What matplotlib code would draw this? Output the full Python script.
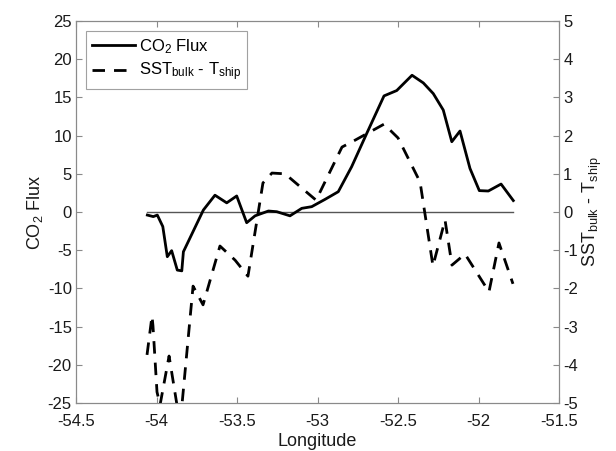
import matplotlib
matplotlib.use("Agg")
import matplotlib.pyplot as plt
import numpy as np

plt.rcParams['font.family'] = ['Liberation Sans', 'DejaVu Sans']
plt.rcParams['mathtext.fontset'] = 'custom'
plt.rcParams['mathtext.rm'] = 'Liberation Sans'
plt.rcParams['mathtext.it'] = 'Liberation Sans'
plt.rcParams['lines.scale_dashes'] = False

# CO2 flux (left axis)
co2_lon = [-54.057, -54.020, -53.995, -53.961, -53.933, -53.906, -53.871, -53.843,
           -53.833, -53.709, -53.637, -53.564, -53.502, -53.440, -53.388, -53.305,
           -53.253, -53.171, -53.098, -53.036, -52.953, -52.871, -52.788, -52.694,
           -52.587, -52.508, -52.413, -52.343, -52.281, -52.219, -52.166, -52.115,
           -52.053, -51.995, -51.939, -51.860, -51.784]
co2_flux = [-0.4, -0.6, -0.4, -1.9, -5.85, -5.06, -7.6, -7.7,
            -5.2, 0.26, 2.2, 1.2, 2.1, -1.4, -0.5, 0.13,
            0.04, -0.5, 0.48, 0.7, 1.66, 2.66, 5.93, 10.3,
            15.2, 15.9, 17.9, 16.9, 15.5, 13.35, 9.2, 10.6,
            5.7, 2.8, 2.75, 3.66, 1.5]

# SST_bulk - T_ship (right axis)
sst_lon = [-54.059, -54.028, -54.022, -53.997, -53.978, -53.922, -53.873, -53.842,
           -53.773, -53.711, -53.606, -53.512, -53.432, -53.339, -53.283, -53.202,
           -53.009, -52.848, -52.767, -52.587, -52.500, -52.363, -52.283, -52.208,
           -52.165, -52.084, -51.935, -51.873, -51.786]
sst_diff = [-3.74, -2.72, -2.98, -4.71, -5.05, -3.77, -5.05, -5.05,
            -1.94, -2.43, -0.89, -1.26, -1.68, 0.76, 1.02, 1.0,
            0.31, 1.70, 1.88, 2.30, 1.94, 0.785, -1.41, -0.21,
            -1.39, -1.10, -2.09, -0.81, -1.88]

fig = plt.figure(figsize=(6.16, 4.51), dpi=100)
ax1 = fig.add_axes([0.1234, 0.1064, 0.7841, 0.847])
ax2 = ax1.twinx()

spine_col = '#8a8a8a'

ax1.plot(co2_lon, np.zeros(len(co2_lon)), color='#555555', lw=1.0)
l1, = ax1.plot(co2_lon, co2_flux, color='black', lw=2.0, label=r'CO$_2$ Flux')
l2, = ax2.plot(sst_lon, sst_diff, color='black', lw=2.0, dashes=(9, 6.5),
               label=r'SST$_{\mathregular{bulk}}$ - T$_{\mathregular{ship}}$')

ax1.set_xlim(-54.5, -51.5)
ax1.set_ylim(-25, 25)
ax2.set_ylim(-5, 5)
ax1.set_xticks([-54.5, -54, -53.5, -53, -52.5, -52, -51.5])
ax1.set_xticklabels(['-54.5', '-54', '-53.5', '-53', '-52.5', '-52', '-51.5'])
ax1.set_yticks(np.arange(-25, 26, 5))
ax1.set_yticklabels([str(v) for v in range(-25, 26, 5)])
ax2.set_yticks(np.arange(-5, 6, 1))
ax2.set_yticklabels([str(v) for v in range(-5, 6)])

for ax in (ax1, ax2):
    for s in ax.spines.values():
        s.set_color(spine_col)
        s.set_linewidth(0.8)
    ax.tick_params(direction='in', length=4, width=0.8, color=spine_col,
                   labelsize=12, labelcolor='#1a1a1a', pad=3)
ax1.tick_params(axis='x', top=True, pad=8)
ax1.tick_params(axis='y', right=False)

ax1.set_xlabel('Longitude', fontsize=13, color='#1a1a1a', labelpad=3)
ax1.set_ylabel(r'CO$_2$ Flux', fontsize=13, color='#1a1a1a', labelpad=2)
ax2.set_ylabel(r'SST$_{\mathregular{bulk}}$ - T$_{\mathregular{ship}}$',
               fontsize=13, color='#1a1a1a', rotation=90, labelpad=2)

leg = ax2.legend(handles=[l1, l2], loc='upper left', bbox_to_anchor=(0.0, 1.0),
                 fontsize=12, frameon=True, fancybox=False, handlelength=2.6,
                 handletextpad=0.2, borderpad=0.35, labelspacing=0.3,
                 borderaxespad=0.6)
leg.get_frame().set_edgecolor(spine_col)
leg.get_frame().set_linewidth(0.8)

fig.savefig('out.png', dpi=100)
